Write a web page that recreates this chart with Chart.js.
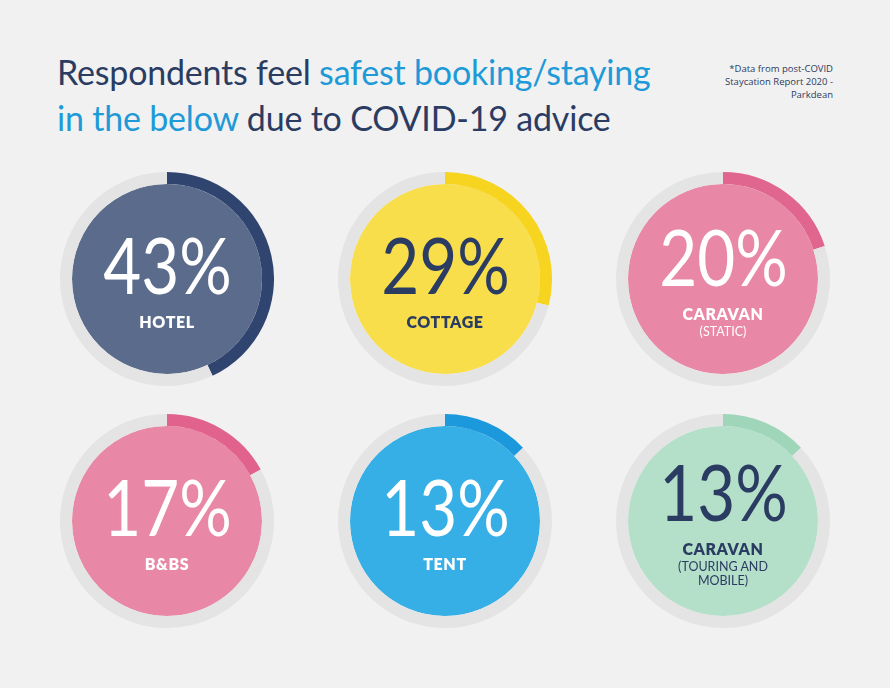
<!DOCTYPE html>
<html lang="en">
<head>
<meta charset="utf-8">
<title>Safest booking/staying</title>
<script src="https://cdn.jsdelivr.net/npm/chart.js@4/dist/chart.umd.min.js"></script>
<style>
  html, body {
    margin: 0;
    padding: 0;
    background: #f1f1f1;
  }
  .pagina {
    position: relative;
    width: 890px;
    height: 688px;
    overflow: hidden;
    background: #f1f1f1;
  }
  .titulo {
    position: absolute;
    left: 57px;
    top: 49px;
    font-family: Lato, "Noto Sans", sans-serif;
    font-size: 34px;
    line-height: 46px;
    color: #2b3c62;
    letter-spacing: -0.2px;
  }
  .titulo .azul { color: #1e9ad8; }
  .nota {
    position: absolute;
    right: 57px;
    top: 62px;
    text-align: right;
    font-family: "Open Sans", Lato, sans-serif;
    font-size: 9.5px;
    line-height: 13px;
    color: #2b3c62;
  }
  .gauge {
    position: absolute;
    width: 214px;
    height: 214px;
  }
  .centro {
    position: absolute;
    left: 0;
    top: 0;
    width: 214px;
    height: 214px;
    display: flex;
    flex-direction: column;
    align-items: center;
    justify-content: center;
    text-align: center;
    pointer-events: none;
  }
  .pct {
    font-family: Lato, sans-serif;
    font-size: 78px;
    line-height: 72px;
    font-weight: 400;
    transform: scaleX(0.84);
  }
  .cat {
    margin-top: 13px;
    font-family: Lato, "Open Sans", sans-serif;
    font-weight: 800;
    font-size: 16px;
    letter-spacing: 0.6px;
    line-height: 17px;
  }
  .sub {
    margin-top: 3px;
    font-family: Lato, "Open Sans", sans-serif;
    font-size: 12.5px;
    line-height: 14px;
    white-space: pre-line;
  }
</style>
</head>
<body>
<div class="pagina" id="pagina">
  <div class="titulo">Respondents feel <span class="azul">safest booking/staying</span><br><span class="azul">in the below</span> due to COVID-19 advice</div>
  <div class="nota">*Data from post-COVID<br>Staycation Report 2020 -<br>Parkdean</div>
</div>
<script>
// datos
const categorias = ["HOTEL", "COTTAGE", "CARAVAN", "B&BS", "TENT", "CARAVAN"];
const subtitulos = ["", "", "(STATIC)", "", "", "(TOURING AND\nMOBILE)"];
const porcentajes = [43, 29, 20, 17, 13, 13];

// estilos
const colorArco = ["#2f4570", "#f6d41f", "#e0668f", "#e0628d", "#1c99dd", "#9fd5b9"];
const colorRelleno = ["#5b6b8b", "#f9de4b", "#e887a6", "#e887a6", "#36aee6", "#b4dfc9"];
const colorTexto = ["#ffffff", "#2b3c62", "#ffffff", "#ffffff", "#ffffff", "#2b3c62"];
const colorGris = "#e4e4e4";
const centrosX = [167, 445, 723];
const centrosY = [279, 521];
const radio = 107;

function crearGauge(i) {
  let pagina = document.getElementById("pagina");
  let caja = document.createElement("div");
  caja.className = "gauge";
  caja.style.left = centrosX[i % 3] - radio + "px";
  caja.style.top = centrosY[Math.floor(i / 3)] - radio + "px";

  let canvas = document.createElement("canvas");
  caja.appendChild(canvas);

  let centro = document.createElement("div");
  centro.className = "centro";
  centro.style.color = colorTexto[i];
  let pct = document.createElement("div");
  pct.className = "pct";
  pct.textContent = porcentajes[i] + "%";
  let cat = document.createElement("div");
  cat.className = "cat";
  cat.textContent = categorias[i];
  centro.appendChild(pct);
  centro.appendChild(cat);
  if (subtitulos[i]) {
    let sub = document.createElement("div");
    sub.className = "sub";
    sub.textContent = subtitulos[i];
    centro.appendChild(sub);
  }
  caja.appendChild(centro);
  pagina.appendChild(caja);

  let config = {
    type: "doughnut",
    data: {
      labels: [categorias[i], "resto"],
      datasets: [
        {
          data: [porcentajes[i], 100 - porcentajes[i]],
          backgroundColor: [colorArco[i], colorGris],
          borderWidth: 0,
          weight: 12,
        },
        {
          data: [1],
          backgroundColor: [colorRelleno[i]],
          borderWidth: 0,
          weight: 95,
        },
      ],
    },
    options: {
      responsive: true,
      maintainAspectRatio: false,
      animation: false,
      cutout: 0,
      events: [],
      layout: { padding: 0 },
      plugins: {
        legend: { display: false },
        tooltip: { enabled: false },
      },
    },
  };

  new Chart(canvas, config);
}

document.addEventListener("DOMContentLoaded", () => {
  for (let i = 0; i < porcentajes.length; i++) {
    crearGauge(i);
  }
});
</script>
</body>
</html>
